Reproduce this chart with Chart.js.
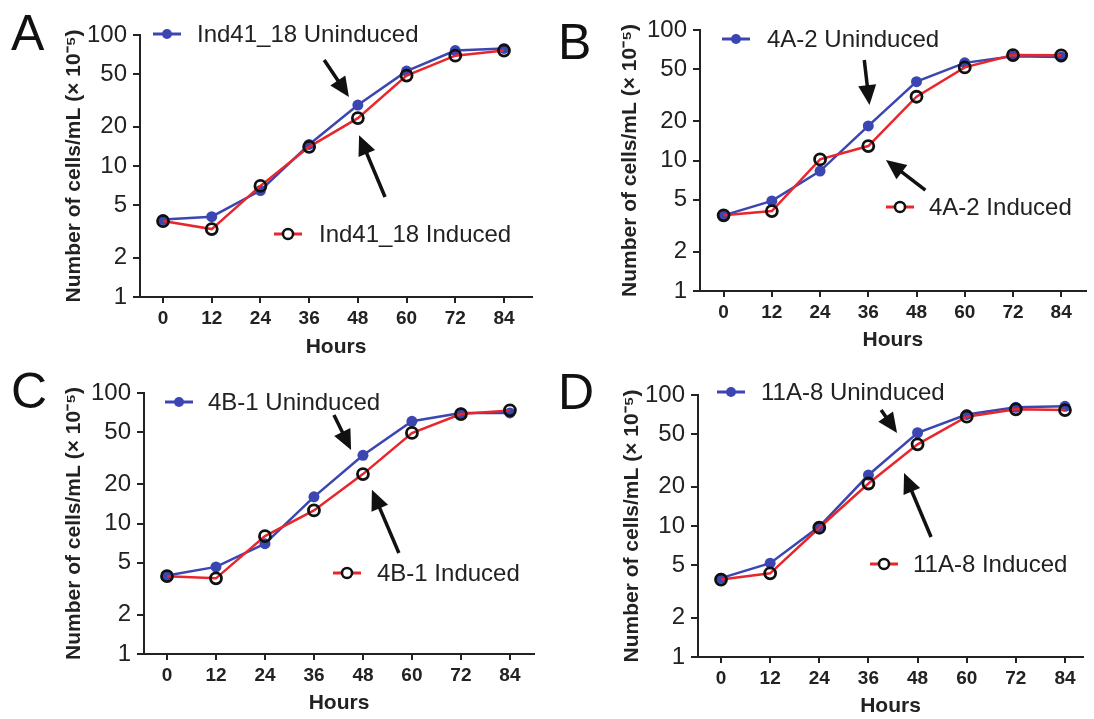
<!DOCTYPE html>
<html>
<head>
<meta charset="utf-8">
<script src="https://cdn.jsdelivr.net/npm/chart.js@4.4.1/dist/chart.umd.min.js"></script>
<style>
  body { margin: 0; background: #fff; overflow: hidden; }
  #wrap { position: relative; width: 1094px; height: 719px; }
  .panel { position: absolute; }
</style>
</head>
<body>
<div id="wrap">
  <div class="panel" style="left:0;top:0"><canvas id="chart0" width="547" height="360"></canvas></div>
  <div class="panel" style="left:547px;top:0"><canvas id="chart1" width="547" height="360"></canvas></div>
  <div class="panel" style="left:0;top:360px"><canvas id="chart2" width="547" height="359"></canvas></div>
  <div class="panel" style="left:547px;top:360px"><canvas id="chart3" width="547" height="359"></canvas></div>
</div>
<script>
// datos
const hours = [0, 12, 24, 36, 48, 60, 72, 84];
const yTicks = [1, 2, 5, 10, 20, 50, 100];
const panelLetters = ['A', 'B', 'C', 'D'];
const strains = ['Ind41_18', '4A-2', '4B-1', '11A-8'];

const uninducedA = [3.9, 4.1, 6.5, 14.6, 29.2, 53, 76, 79];
const inducedA = [3.8, 3.3, 7.05, 14.0, 23.2, 49, 69.5, 76];
const uninducedB = [3.8, 4.9, 8.3, 18.4, 40.2, 56, 63, 62];
const inducedB = [3.8, 4.1, 10.2, 12.9, 30.8, 51.7, 64.3, 64];
const uninducedC = [4.0, 4.65, 7.0, 16.0, 33.3, 60.7, 70.3, 70.3];
const inducedC = [3.95, 3.8, 8.0, 12.6, 23.9, 49.4, 69, 73.6];
const uninducedD = [4.0, 5.2, 9.9, 24.5, 51.5, 71, 80.5, 82];
const inducedD = [3.9, 4.35, 9.7, 21.1, 42, 68.3, 77.7, 76.7];

// flechas en coordenadas de datos: [h inicio, valor inicio, h punta, valor punta]
const arrowsA = [[39.7, 64.5, 45.8, 33.6], [54.7, 5.8, 48.3, 17.2]];
const arrowsB = [[35.0, 58.9, 36.3, 26.6], [50.2, 5.94, 40.4, 10.1]];
const arrowsC = [[40.9, 67.8, 45.1, 36.6], [56.8, 5.94, 50.2, 18.1]];
const arrowsD = [[39.1, 76.8, 43.0, 51.3], [51.3, 8.24, 44.7, 25.4]];

const uninducedAll = [uninducedA, uninducedB, uninducedC, uninducedD];
const inducedAll = [inducedA, inducedB, inducedC, inducedD];
const arrowsAll = [arrowsA, arrowsB, arrowsC, arrowsD];

// posiciones de cada panel (pixeles)
const layouts = [
  { left: 140, top: 35, bottom: 297, height: 360, padRight: 15, xMin: -5.67, xMax: 90.9, yTitlePad: 62, hoursPad: 0, letterY: 50,
    legend: [{ x: 167, y: 34, textX: 197 }, { x: 288, y: 234, textX: 319 }] },
  { left: 153, top: 30, bottom: 291, height: 360, padRight: 2, xMin: -5.88, xMax: 90.1, yTitlePad: 71, hoursPad: 7, letterY: 59,
    legend: [{ x: 189, y: 39, textX: 220 }, { x: 353, y: 207, textX: 382 }] },
  { left: 144, top: 33, bottom: 294, height: 359, padRight: 13, xMin: -5.63, xMax: 89.9, yTitlePad: 62, hoursPad: 3, letterY: 48,
    legend: [{ x: 179, y: 42, textX: 208 }, { x: 347, y: 213, textX: 377 }] },
  { left: 151, top: 35, bottom: 297, height: 359, padRight: 11, xMin: -5.62, xMax: 88.4, yTitlePad: 73, hoursPad: 0, letterY: 49,
    legend: [{ x: 184, y: 32, textX: 214 }, { x: 337, y: 204, textX: 366 }] }
];

const FONT = '"Liberation Sans", Arial, sans-serif';
const INK = '#222';
const BLUE = '#3b46b2';
const RED = '#e8262c';

function drawArrow(ctx, x1, y1, x2, y2) {
  const ang = Math.atan2(y2 - y1, x2 - x1);
  const headLen = 20, headW = 9;
  const bx = x2 - headLen * Math.cos(ang), by = y2 - headLen * Math.sin(ang);
  ctx.strokeStyle = '#111';
  ctx.fillStyle = '#111';
  ctx.lineWidth = 3.5;
  ctx.beginPath();
  ctx.moveTo(x1, y1);
  ctx.lineTo(bx + 2 * Math.cos(ang), by + 2 * Math.sin(ang));
  ctx.stroke();
  ctx.beginPath();
  ctx.moveTo(x2, y2);
  ctx.lineTo(bx + headW * Math.sin(ang), by - headW * Math.cos(ang));
  ctx.lineTo(bx - headW * Math.sin(ang), by + headW * Math.cos(ang));
  ctx.closePath();
  ctx.fill();
}

// leyendas dentro del grafico, flechas y letra del panel
const decorPlugin = {
  id: 'decor',
  afterDatasetsDraw(chart, args, opts) {
    const ctx = chart.ctx;
    const xs = chart.scales.x, ys = chart.scales.y;
    ctx.save();
    opts.arrows.forEach(a => {
      drawArrow(ctx, xs.getPixelForValue(a[0]), ys.getPixelForValue(a[1]),
        xs.getPixelForValue(a[2]), ys.getPixelForValue(a[3]));
    });
    opts.legend.forEach((pos, i) => {
      const ds = chart.data.datasets[i];
      ctx.strokeStyle = ds.borderColor;
      ctx.lineWidth = 3;
      ctx.beginPath();
      ctx.moveTo(pos.x - 14, pos.y);
      ctx.lineTo(pos.x + 14, pos.y);
      ctx.stroke();
      ctx.beginPath();
      ctx.arc(pos.x, pos.y, 5, 0, Math.PI * 2);
      if (ds.pointBackgroundColor !== 'transparent') {
        ctx.fillStyle = ds.pointBackgroundColor;
        ctx.fill();
      } else {
        ctx.fillStyle = '#fff';
        ctx.fill();
        ctx.strokeStyle = ds.pointBorderColor;
        ctx.lineWidth = 2.5;
        ctx.stroke();
      }
      ctx.fillStyle = INK;
      ctx.font = '24px ' + FONT;
      ctx.textBaseline = 'middle';
      ctx.textAlign = 'left';
      ctx.fillText(ds.label, pos.textX, pos.y + 1);
    });
    ctx.fillStyle = '#111';
    ctx.font = '50px ' + FONT;
    ctx.textBaseline = 'alphabetic';
    ctx.fillText(opts.letter, 11, opts.letterY);
    ctx.restore();
  }
};

const charts = [];
for (let p = 0; p < 4; p++) {
  const L = layouts[p];
  const chart = new Chart(document.getElementById('chart' + p), {
    type: 'line',
    data: {
      datasets: [
        {
          label: strains[p] + ' Uninduced',
          data: hours.map((h, i) => ({ x: h, y: uninducedAll[p][i] })),
          borderColor: BLUE,
          borderWidth: 2.5,
          pointRadius: 5.5,
          pointBackgroundColor: BLUE,
          pointBorderColor: BLUE,
          pointBorderWidth: 0,
          tension: 0,
          order: 1,
          clip: false
        },
        {
          label: strains[p] + ' Induced',
          data: hours.map((h, i) => ({ x: h, y: inducedAll[p][i] })),
          borderColor: RED,
          borderWidth: 2.5,
          pointRadius: 5.5,
          pointBackgroundColor: 'transparent',
          pointBorderColor: '#111',
          pointBorderWidth: 2.8,
          tension: 0,
          order: 0,
          clip: false
        }
      ]
    },
    options: {
      responsive: false,
      animation: false,
      layout: { padding: { top: L.top, right: L.padRight, left: 0, bottom: 0 } },
      plugins: {
        legend: { display: false },
        tooltip: { enabled: false },
        decor: { arrows: arrowsAll[p], legend: L.legend, letter: panelLetters[p], letterY: L.letterY }
      },
      scales: {
        x: {
          type: 'linear',
          min: L.xMin,
          max: L.xMax,
          afterBuildTicks: s => { s.ticks = hours.map(v => ({ value: v })); },
          afterFit: s => { s.height = L.height - L.bottom; },
          ticks: { color: INK, font: { family: FONT, size: 19, weight: 'bold' }, padding: 4, maxRotation: 0, autoSkip: false },
          grid: { display: true, drawOnChartArea: false, color: INK, lineWidth: 2, tickLength: 6 },
          border: { display: true, color: INK, width: 2 },
          title: { display: true, text: 'Hours', color: INK, font: { family: FONT, size: 21, weight: 'bold' }, padding: { top: 0, bottom: L.hoursPad } }
        },
        y: {
          type: 'logarithmic',
          min: 1,
          max: 100,
          afterBuildTicks: s => { s.ticks = yTicks.map(v => ({ value: v })); },
          afterFit: s => { s.width = L.left; },
          ticks: { color: INK, font: { family: FONT, size: 24 }, padding: 6, callback: v => String(v) },
          grid: { display: true, drawOnChartArea: false, color: INK, lineWidth: 2, tickLength: 7 },
          border: { display: true, color: INK, width: 2 },
          title: { display: true, text: 'Number of cells/mL (× 10⁻⁵)', color: INK, font: { family: FONT, size: 21, weight: 'bold' }, padding: { top: L.yTitlePad, bottom: 0 } }
        }
      }
    },
    plugins: [decorPlugin]
  });
  charts.push(chart);
}
</script>
</body>
</html>
